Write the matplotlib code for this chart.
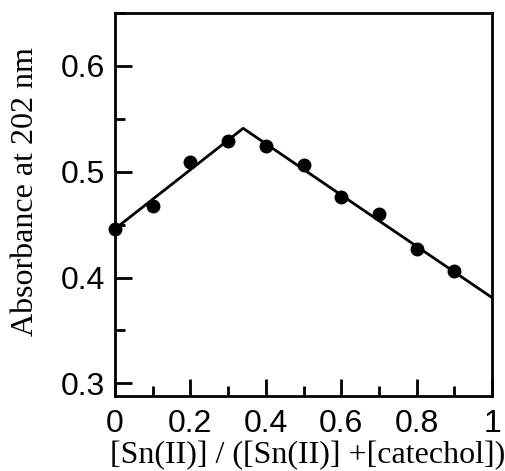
import matplotlib
matplotlib.use('Agg')
import matplotlib.pyplot as plt
from matplotlib.ticker import MultipleLocator

# mole fraction data
frac = [0, 0.1, 0.2, 0.3, 0.4, 0.5, 0.6, 0.7, 0.8, 0.9]
absb = [0.446, 0.468, 0.509, 0.529, 0.524, 0.506, 0.476, 0.460, 0.427, 0.406]

# fitted lines meeting at the break point
fit_x = [0, 0.34, 1.0]
fit_y = [0.446, 0.541, 0.381]

xticks = [0, 0.2, 0.4, 0.6, 0.8, 1]
xtick_labels = ['0', '0.2', '0.4', '0.6', '0.8', '1']
yticks = [0.3, 0.4, 0.5, 0.6]
ytick_labels = ['0.3', '0.4', '0.5', '0.6']

fig = plt.figure(figsize=(5.05, 4.71), dpi=100)
ax = fig.add_axes([115/505, 1 - 396/471, (492 - 115)/505, (396 - 13)/471])

ax.plot(fit_x, fit_y, 'k-', lw=2.0, zorder=2)
ax.plot(frac, absb, 'ko', ms=9, zorder=3, clip_on=False)

ax.set_xlim(0, 1)
ax.set_ylim(0.288, 0.650)
ax.set_xticks(xticks)
ax.set_xticklabels(xtick_labels)
ax.set_yticks(yticks)
ax.set_yticklabels(ytick_labels)
ax.xaxis.set_minor_locator(MultipleLocator(0.1))
ax.yaxis.set_minor_locator(MultipleLocator(0.05))
ax.tick_params(which='major', direction='in', length=12, width=2, labelsize=23,
               top=False, right=False, pad=7)
ax.tick_params(axis='x', which='major', pad=9)
ax.tick_params(which='minor', direction='in', length=7, width=2, top=False, right=False)
for lab in ax.get_xticklabels() + ax.get_yticklabels():
    lab.set_family('Liberation Sans')
for s in ax.spines.values():
    s.set_linewidth(2)

ax.set_xlabel('[Sn(II)] / ([Sn(II)] +[catechol])', family='Liberation Serif',
              fontsize=23)
ax.xaxis.set_label_coords(0.51, -0.118)
ax.set_ylabel('Absorbance at 202 nm', family='Liberation Serif', fontsize=23)
ax.yaxis.set_label_coords(-0.20, 0.535)

fig.savefig('out.png', dpi=100)
